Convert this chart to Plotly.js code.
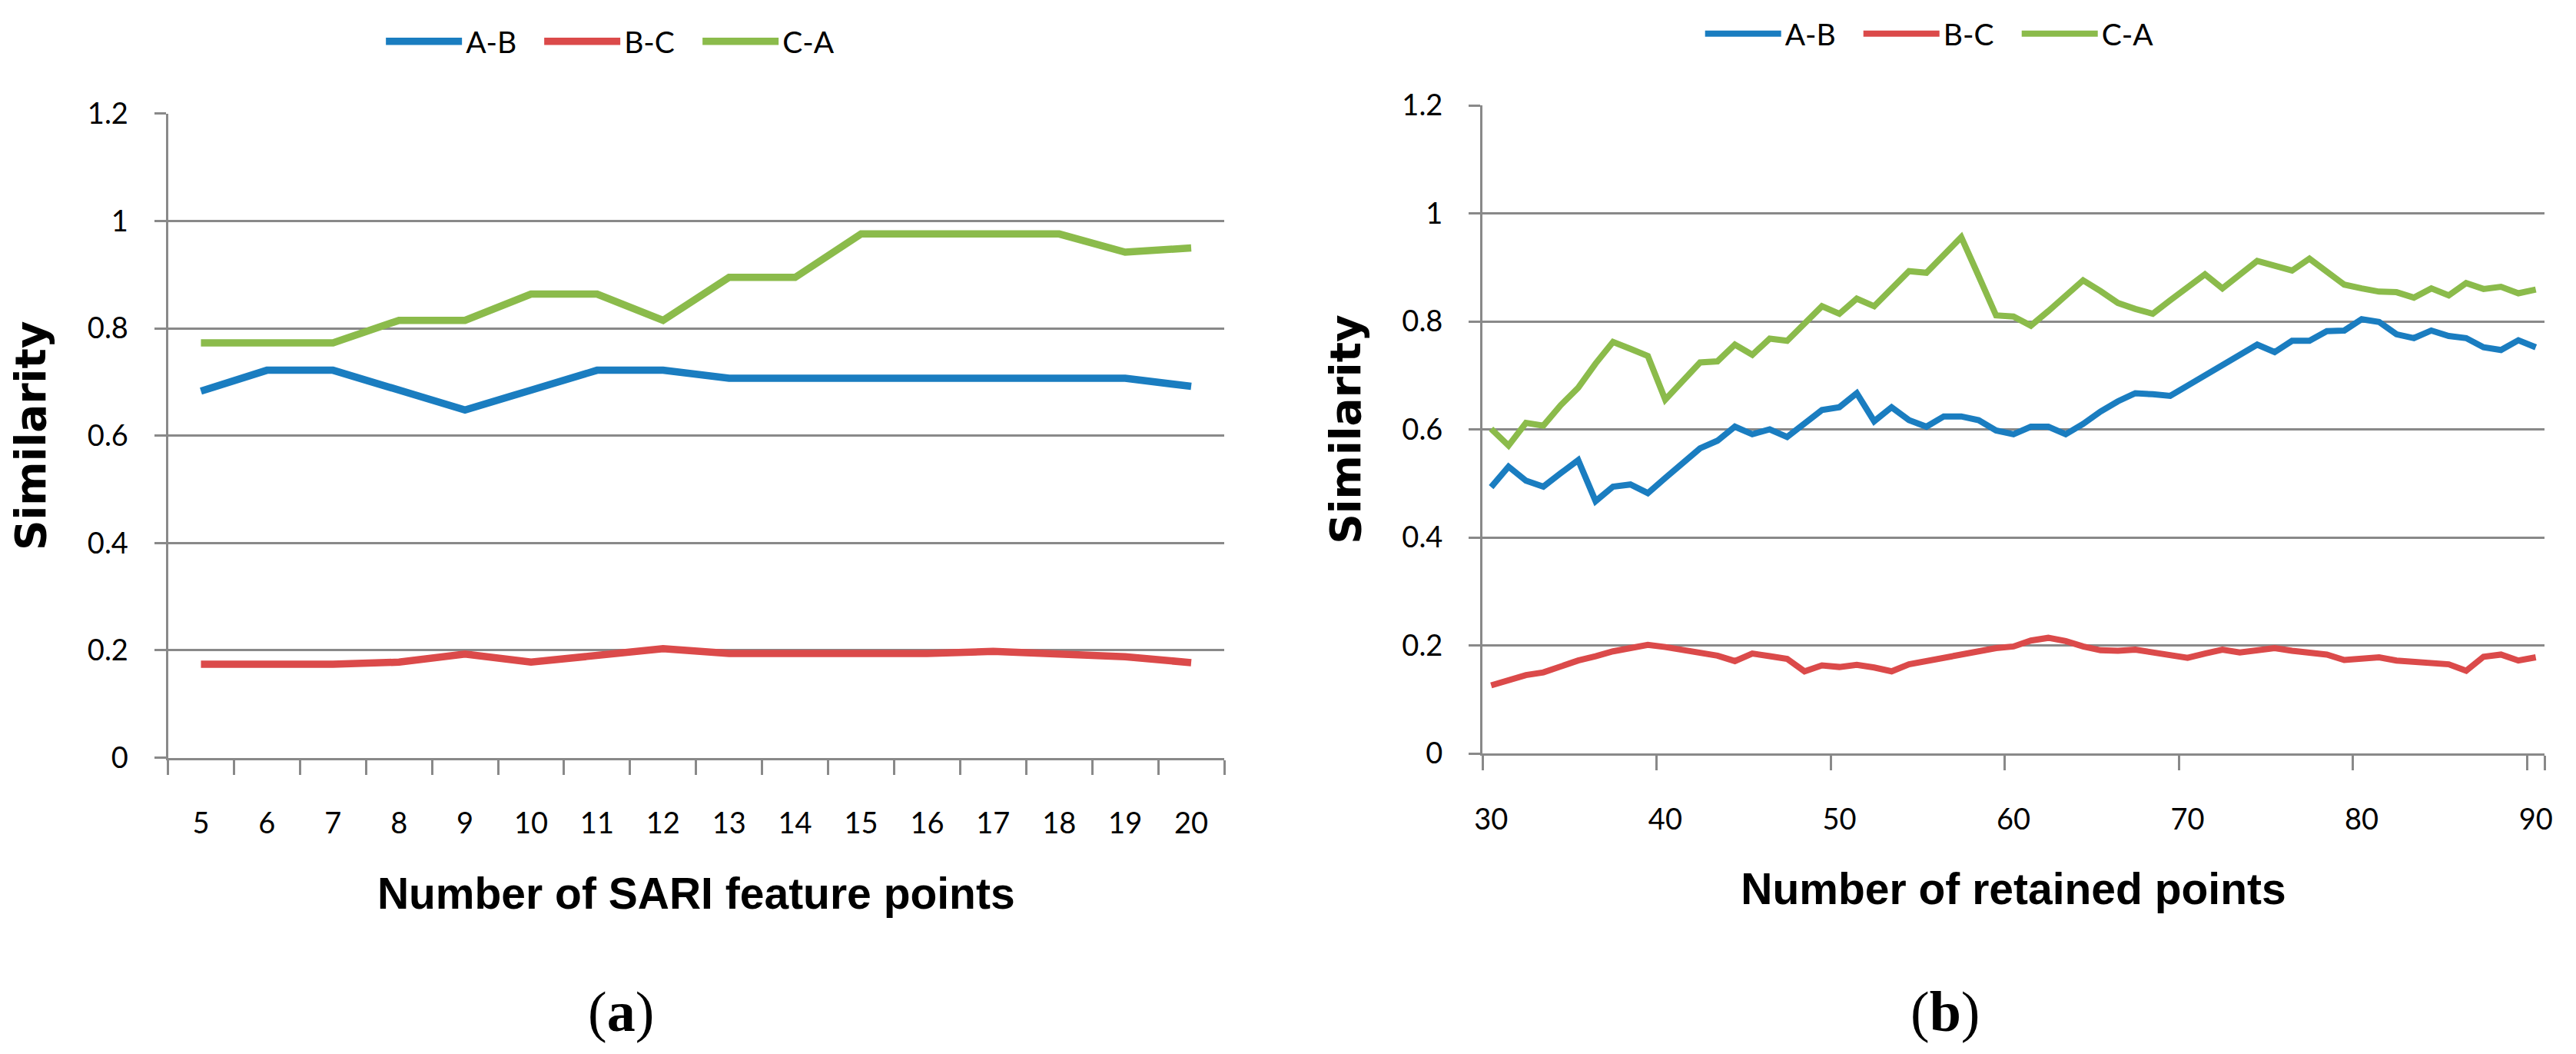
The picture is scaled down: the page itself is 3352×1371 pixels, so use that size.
<!DOCTYPE html>
<html>
<head>
<meta charset="utf-8">
<script src="https://cdn.plot.ly/plotly-3.0.1.min.js"></script>
<style>
html,body{margin:0;padding:0;background:#ffffff;}
#chart{width:3352px;height:1371px;}
</style>
</head>
<body>
<div id="chart"></div>
<script>
// ---------- data ----------
const seriesNames = ['A-B', 'B-C', 'C-A'];
const seriesColors = ['#1a7dc0', '#db4a4a', '#8bbb4b'];

// (a) Number of SARI feature points
const featurePoints = [5, 6, 7, 8, 9, 10, 11, 12, 13, 14, 15, 16, 17, 18, 19, 20];
const abFeature = [0.683, 0.722, 0.722, 0.685, 0.648, 0.685, 0.722, 0.722, 0.707, 0.707, 0.707, 0.707, 0.707, 0.707, 0.707, 0.692];
const bcFeature = [0.174, 0.174, 0.174, 0.178, 0.193, 0.178, 0.191, 0.203, 0.194, 0.194, 0.194, 0.194, 0.198, 0.194, 0.188, 0.177];
const caFeature = [0.773, 0.773, 0.773, 0.815, 0.815, 0.864, 0.864, 0.815, 0.895, 0.895, 0.976, 0.976, 0.976, 0.976, 0.942, 0.950];

// (b) Number of retained points
const retainedPoints = [30, 31, 32, 33, 34, 35, 36, 37, 38, 39,
  40, 41, 42, 43, 44, 45, 46, 47, 48, 49,
  50, 51, 52, 53, 54, 55, 56, 57, 58, 59,
  60, 61, 62, 63, 64, 65, 66, 67, 68, 69,
  70, 71, 72, 73, 74, 75, 76, 77, 78, 79,
  80, 81, 82, 83, 84, 85, 86, 87, 88, 89, 90];
const retainedTicks = [30, 40, 50, 60, 70, 80, 90];
const abRetained = [0.493, 0.531, 0.505, 0.494, 0.519, 0.543, 0.467, 0.494, 0.498, 0.482,
  0.510, 0.538, 0.565, 0.579, 0.605, 0.591, 0.600, 0.586, 0.612, 0.636,
  0.641, 0.667, 0.615, 0.641, 0.617, 0.605, 0.624, 0.624, 0.617, 0.598,
  0.591, 0.605, 0.605, 0.591, 0.610, 0.633, 0.652, 0.667, 0.665, 0.662,
  0.681, 0.700, 0.719, 0.738, 0.757, 0.743, 0.764, 0.764, 0.782, 0.783,
  0.804, 0.799, 0.776, 0.769, 0.783, 0.773, 0.769, 0.752, 0.747, 0.765, 0.752];
const bcRetained = [0.126, 0.136, 0.145, 0.150, 0.162, 0.172, 0.180, 0.189, 0.195, 0.201,
  0.197, 0.191, 0.187, 0.181, 0.171, 0.185, 0.180, 0.175, 0.152, 0.163,
  0.160, 0.164, 0.159, 0.152, 0.165, 0.171, 0.177, 0.181, 0.188, 0.195,
  0.198, 0.209, 0.214, 0.208, 0.198, 0.191, 0.190, 0.192, 0.187, 0.181,
  0.177, 0.185, 0.192, 0.187, 0.192, 0.195, 0.190, 0.187, 0.183, 0.173,
  0.176, 0.178, 0.172, 0.170, 0.168, 0.165, 0.153, 0.179, 0.183, 0.172, 0.178];
const caRetained = [0.601, 0.570, 0.612, 0.607, 0.645, 0.677, 0.722, 0.762, 0.749, 0.736,
  0.655, 0.688, 0.724, 0.726, 0.757, 0.738, 0.768, 0.764, 0.796, 0.828,
  0.814, 0.842, 0.828, 0.861, 0.893, 0.890, 0.923, 0.956, 0.884, 0.811,
  0.809, 0.792, 0.819, 0.847, 0.876, 0.856, 0.834, 0.823, 0.814, 0.839,
  0.864, 0.887, 0.861, 0.886, 0.912, 0.903, 0.894, 0.916, 0.892, 0.868,
  0.861, 0.855, 0.854, 0.844, 0.861, 0.848, 0.871, 0.860, 0.864, 0.852, 0.859];

const yTitle = 'Similarity';
const xTitleA = 'Number of SARI feature points';
const xTitleB = 'Number of retained points';
const captionA = '(<b>a</b>)';
const captionB = '(<b>b</b>)';

// ---------- styling ----------
const gridGray = '#898989';
const tickFont = {family: 'Lato, "Open Sans", sans-serif', size: 38, color: '#000000'};
const xTitleFont = {family: '"Liberation Sans", Arial, sans-serif', size: 57, color: '#000000', weight: 'bold'};
const yTitleFont = {family: '"DejaVu Sans", Verdana, sans-serif', size: 55, color: '#000000', weight: 'bold'};

const aSeries = [abFeature, bcFeature, caFeature];
const bSeries = [abRetained, bcRetained, caRetained];

const traces = [];
seriesNames.forEach((name, i) => {
  traces.push({
    type: 'scatter', mode: 'lines', name: name,
    x: featurePoints, y: aSeries[i],
    xaxis: 'x', yaxis: 'y', legend: 'legend',
    line: {color: seriesColors[i], width: 9.5}
  });
});
seriesNames.forEach((name, i) => {
  traces.push({
    type: 'scatter', mode: 'lines', name: name,
    x: retainedPoints, y: bSeries[i],
    xaxis: 'x2', yaxis: 'y2', legend: 'legend2',
    line: {color: seriesColors[i], width: 8}
  });
});

// category-style x axis: labels at category centres, tick marks on category boundaries
function xAxis(domain, anchor, title, cats, labels) {
  const first = cats[0], last = cats[cats.length - 1];
  const bounds = labels.map(v => v - 0.5);
  if (labels[labels.length - 1] === last) bounds.push(last + 0.5);
  return {
    domain: domain, anchor: anchor, type: 'linear',
    range: [first - 0.5, last + 0.5],
    tickmode: 'array', tickvals: labels, ticktext: labels.map(String),
    tickangle: 0,
    ticks: 'outside', ticklen: 50, tickwidth: 1, tickcolor: 'rgba(0,0,0,0)',
    minor: {tickmode: 'array', tickvals: bounds, ticks: 'outside', ticklen: 19,
            tickwidth: 3, tickcolor: gridGray, showgrid: false},
    showline: true, linecolor: gridGray, linewidth: 3,
    showgrid: false, zeroline: false,
    tickfont: tickFont,
    automargin: false, fixedrange: true,
    title: {text: title, font: xTitleFont, standoff: 51}
  };
}
function yAxis(domain, anchor) {
  return {
    domain: domain, anchor: anchor,
    range: [0, 1.2], tickmode: 'linear', tick0: 0, dtick: 0.2,
    ticks: 'outside', ticklen: 15, tickwidth: 3, tickcolor: gridGray,
    showline: true, linecolor: gridGray, linewidth: 3,
    showgrid: true, gridcolor: gridGray, gridwidth: 3, zeroline: false,
    tickfont: tickFont, ticklabelstandoff: 26,
    automargin: false, fixedrange: true,
    title: {text: yTitle, font: yTitleFont, standoff: 37}
  };
}
const legendBase = {
  orientation: 'h', xanchor: 'center', yanchor: 'middle',
  font: {family: 'Lato, "Open Sans", sans-serif', size: 39, color: '#000000'},
  itemwidth: 99, entrywidth: 92, bgcolor: 'rgba(0,0,0,0)', borderwidth: 0
};

const layout = {
  width: 3352, height: 1371,
  margin: {l: 0, r: 0, t: 0, b: 0, pad: 0},
  paper_bgcolor: '#ffffff', plot_bgcolor: '#ffffff',
  showlegend: true,
  xaxis: xAxis([0.06519, 0.47524], 'y', xTitleA, featurePoints, featurePoints),
  yaxis: yAxis([0.28118, 0.89205], 'x'),
  xaxis2: xAxis([0.57548, 0.98777], 'y2', xTitleB, retainedPoints, retainedTicks),
  yaxis2: yAxis([0.28519, 0.90007], 'x2'),
  legend: Object.assign({}, legendBase, {x: 0.2405, y: 0.9606}),
  legend2: Object.assign({}, legendBase, {x: 0.7526, y: 0.9680}),
  annotations: [
    {text: captionA, xref: 'paper', yref: 'paper', x: 0.2411, y: 0.0401, xanchor: 'center', yanchor: 'middle',
     showarrow: false, font: {family: '"Liberation Serif", "Times New Roman", serif', size: 74, color: '#000000'}},
    {text: captionB, xref: 'paper', yref: 'paper', x: 0.7551, y: 0.0401, xanchor: 'center', yanchor: 'middle',
     showarrow: false, font: {family: '"Liberation Serif", "Times New Roman", serif', size: 74, color: '#000000'}}
  ]
};

Plotly.newPlot('chart', traces, layout, {staticPlot: true, displayModeBar: false});
</script>
</body>
</html>
